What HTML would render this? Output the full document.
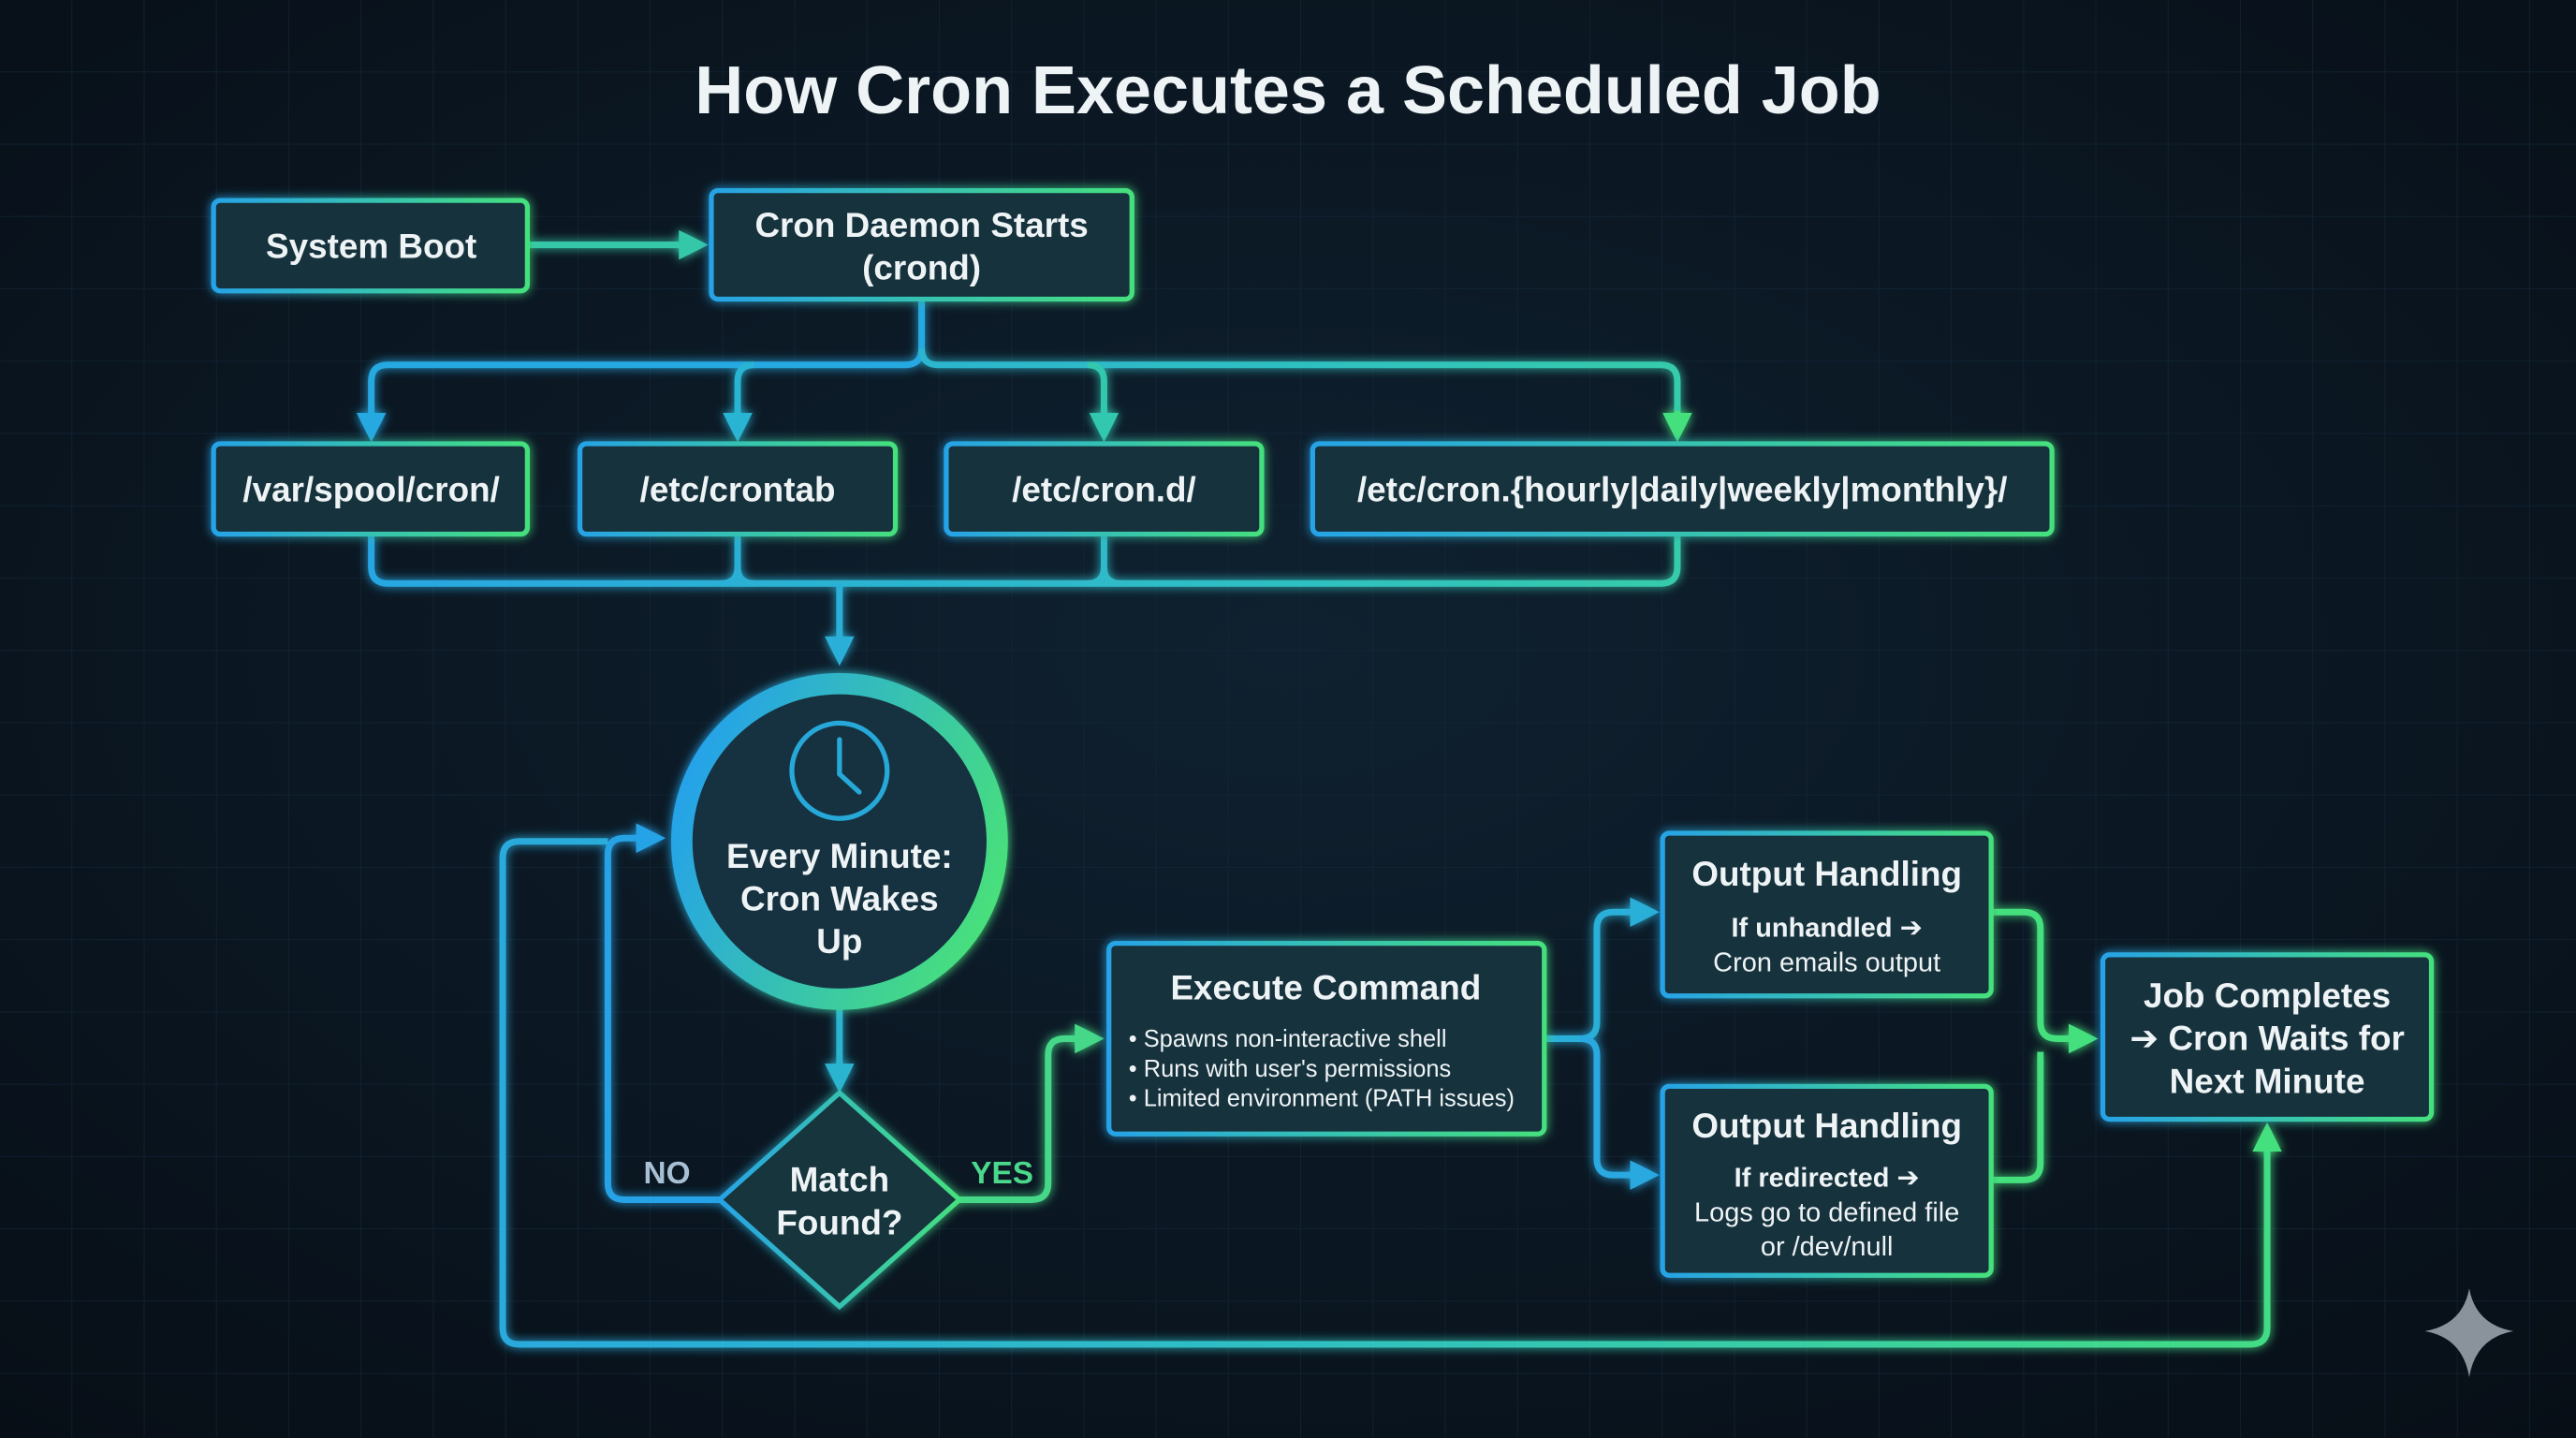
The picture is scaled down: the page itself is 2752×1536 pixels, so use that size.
<!DOCTYPE html>
<html><head><meta charset="utf-8"><style>
html,body{margin:0;padding:0;background:#0a1520;}
svg{display:block}
text{font-family:"Liberation Sans",Arial,sans-serif;fill:#eef3f5;text-anchor:middle}
.b{font-weight:bold}
.ar{font-family:"DejaVu Sans",sans-serif}
</style></head><body>
<svg width="2752" height="1536" viewBox="0 0 1568 875" preserveAspectRatio="none" xmlns="http://www.w3.org/2000/svg">
<defs>
<radialGradient id="bg" cx="50%" cy="45%" r="75%"><stop offset="0" stop-color="#0f2130"/><stop offset="1" stop-color="#070e16"/></radialGradient>
<pattern id="grid" width="44" height="44" patternUnits="userSpaceOnUse"><path d="M44 0V44H0" fill="none" stroke="#14283a" stroke-width="1"/></pattern>
<linearGradient id="lg" gradientUnits="userSpaceOnUse" x1="150" y1="0" x2="1450" y2="0"><stop offset="0" stop-color="#27a3e6"/><stop offset="0.5" stop-color="#2fc0c0"/><stop offset="1" stop-color="#45e07e"/></linearGradient>
<linearGradient id="bx" x1="0" y1="0" x2="1" y2="0"><stop offset="0" stop-color="#27a3e6"/><stop offset="1" stop-color="#45e07e"/></linearGradient>
<linearGradient id="ci" x1="0" y1="0.3" x2="1" y2="0.7"><stop offset="0" stop-color="#25a2ea"/><stop offset="1" stop-color="#48e07a"/></linearGradient>
<filter id="gl" x="-20%" y="-20%" width="140%" height="140%"><feGaussianBlur stdDeviation="3" result="b"/><feMerge><feMergeNode in="b"/><feMergeNode in="SourceGraphic"/></feMerge></filter>
<marker id="ah" viewBox="0 0 10 10" refX="6" refY="5" markerWidth="4.5" markerHeight="4.5" orient="auto"><path d="M0 0L10 5L0 10z" fill="context-stroke"/></marker>
</defs>
<rect width="1568" height="875" fill="url(#bg)"/>
<rect width="1568" height="875" fill="url(#grid)" opacity="0.7"/>

<text x="784" y="69" class="b" font-size="41">How Cron Executes a Scheduled Job</text>

<g fill="none" stroke-width="4" filter="url(#gl)" stroke-linejoin="round">
<path d="M322 149H424" stroke="#35c8a8" marker-end="url(#ah)"/>
<path d="M561 183V212Q561 222 551 222H236Q226 222 226 232V262" stroke="#27a8e0" marker-end="url(#ah)"/>
<path d="M561 212Q561 222 571 222H1011Q1021 222 1021 232V262" stroke="url(#lg)"/>
<path d="M1021 250V262" stroke="#45e07e" marker-end="url(#ah)"/>
<path d="M459 222Q449 222 449 232V262" stroke="#2ab4d4" marker-end="url(#ah)"/>
<path d="M662 222Q672 222 672 232V262" stroke="#30c8b0" marker-end="url(#ah)"/>
<path d="M226 326V345Q226 355 236 355H1011Q1021 355 1021 345V326" stroke="url(#lg)"/>
<path d="M449 326V345Q449 355 439 355M449 345Q449 355 459 355M672 326V345Q672 355 662 355M672 345Q672 355 682 355" stroke="url(#lg)"/>
<path d="M511 355V398" stroke="#2ab0d8" marker-end="url(#ah)"/>
<path d="M511 614V658" stroke="#2ab4d0" marker-end="url(#ah)"/>
<path d="M438 730H380Q370 730 370 720V520Q370 510 380 510H398" stroke="#27a3e6" marker-end="url(#ah)"/>
<path d="M370 512H316Q306 512 306 522V808Q306 818 316 818H1370Q1380 818 1380 808V690" stroke="url(#lg)"/>
<path d="M1380 700V690" stroke="#45e07e" marker-end="url(#ah)"/>
<path d="M584 730H628Q638 730 638 720V642Q638 632 648 632H665" stroke="#45d888" marker-end="url(#ah)"/>
<path d="M941 632H962Q972 632 972 622V565Q972 555 982 555H1003" stroke="#2ab0d8" marker-end="url(#ah)"/>
<path d="M962 632Q972 632 972 642V705Q972 715 982 715H1003" stroke="#2aa8e0" marker-end="url(#ah)"/>
<path d="M1213 555H1232Q1242 555 1242 565V622Q1242 632 1252 632H1270" stroke="#45e07e" marker-end="url(#ah)"/>
<path d="M1213 718H1232Q1242 718 1242 708V640" stroke="#45e07e"/>
</g>

<g fill="#16303c" stroke="url(#bx)" stroke-width="3" filter="url(#gl)">
<rect x="130" y="122" width="191" height="55" rx="4"/>
<rect x="433" y="116" width="256" height="66" rx="4"/>
<rect x="130" y="270" width="191" height="55" rx="4"/>
<rect x="353" y="270" width="192" height="55" rx="4"/>
<rect x="576" y="270" width="192" height="55" rx="4"/>
<rect x="799" y="270" width="450" height="55" rx="4"/>
<rect x="675" y="574" width="265" height="116" rx="4"/>
<rect x="1012" y="507" width="200" height="99" rx="4"/>
<rect x="1012" y="661" width="200" height="115" rx="4"/>
<rect x="1280" y="581" width="200" height="100" rx="4"/>
<circle cx="511" cy="512" r="96" stroke="url(#ci)" stroke-width="13" fill="#143040"/>
<path d="M511 665L584 730L511 795L438 730Z" fill="#16343c" stroke="url(#bx)"/>
</g>
<g fill="none" stroke="#26a8d8" stroke-width="3">
<circle cx="511" cy="469" r="29"/>
<path d="M511 450V471L523 482" stroke-linecap="round"/>
</g>

<g class="b" font-size="21">
<text x="226" y="157">System Boot</text>
<text x="561" y="144">Cron Daemon Starts</text>
<text x="561" y="170">(crond)</text>
<text x="226" y="305">/var/spool/cron/</text>
<text x="449" y="305">/etc/crontab</text>
<text x="672" y="305">/etc/cron.d/</text>
<text x="1024" y="305">/etc/cron.{hourly|daily|weekly|monthly}/</text>
<text x="511" y="528">Every Minute:</text>
<text x="511" y="554">Cron Wakes</text>
<text x="511" y="580">Up</text>
<text x="511" y="725">Match</text>
<text x="511" y="751">Found?</text>
<text x="406" y="720" font-size="19" style="fill:#a8c0d4">NO</text>
<text x="610" y="720" font-size="19" style="fill:#4ad88a">YES</text>
<text x="807" y="608">Execute Command</text>
<text x="1112" y="539">Output Handling</text>
<text x="1112" y="692">Output Handling</text>
<text x="1380" y="613">Job Completes</text>
<text x="1380" y="639"><tspan class="ar">➔</tspan> Cron Waits for</text>
<text x="1380" y="665">Next Minute</text>
</g>
<g font-size="14.5">
<text x="687" y="637" style="text-anchor:start">• Spawns non-interactive shell</text>
<text x="687" y="655" style="text-anchor:start">• Runs with user's permissions</text>
<text x="687" y="673" style="text-anchor:start">• Limited environment (PATH issues)</text>
</g>
<g font-size="16.5">
<text x="1112" y="570" class="b">If unhandled <tspan class="ar">➔</tspan></text>
<text x="1112" y="591">Cron emails output</text>
<text x="1112" y="722" class="b">If redirected <tspan class="ar">➔</tspan></text>
<text x="1112" y="743">Logs go to defined file</text>
<text x="1112" y="764">or /dev/null</text>
</g>
<path d="M1503 784Q1507 806 1530 810Q1507 814 1503 838Q1499 814 1476 810Q1499 806 1503 784Z" fill="#8a939c"/>
</svg>
</body></html>
